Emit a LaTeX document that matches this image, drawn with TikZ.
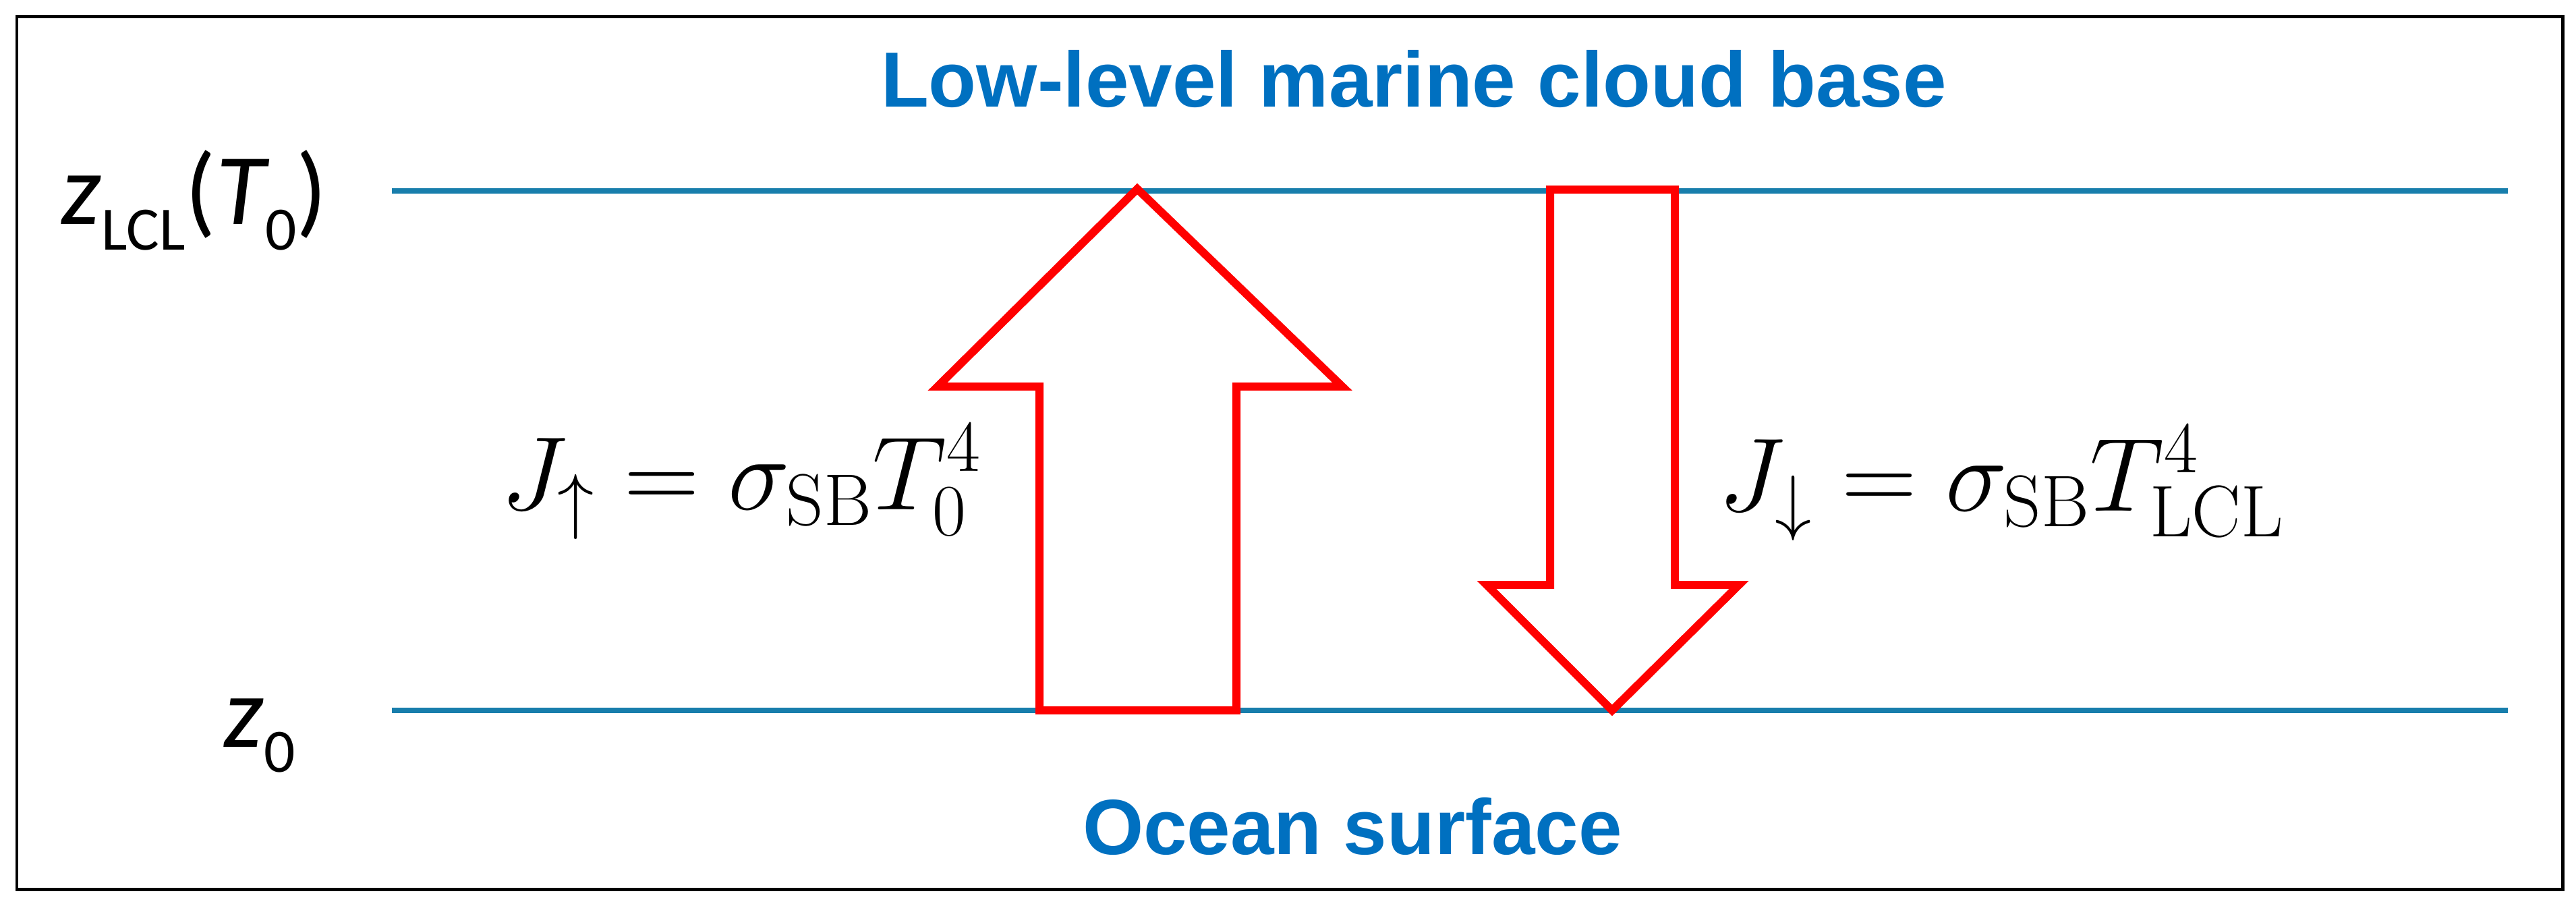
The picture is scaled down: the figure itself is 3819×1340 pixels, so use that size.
\documentclass[tikz,border=0pt]{standalone}
\usepackage{fix-cm}
\usepackage{amsmath}
\usepackage{fontspec}
\setsansfont{Liberation Sans}
\newfontfamily\calib{Carlito}
\usepackage{tikz}

\definecolor{levelblue}{RGB}{24,126,172}
\definecolor{textblue}{RGB}{0,112,192}

% low subscript for the height labels
\newcommand{\lowsub}[1]{\raisebox{-0.25em}{\fontsize{26}{26}\selectfont\upshape #1}}

\begin{document}
\begin{tikzpicture}[x=0.01cm, y=-0.01cm,
    level/.style={line width=2.1pt, levelblue},
    flux/.style={line width=3.4pt, red, line join=miter, fill=white},
    title/.style={font=\sffamily\bfseries\fontsize{33}{38}\selectfont, text=textblue, inner sep=0pt, anchor=base},
    height/.style={font=\calib\itshape\fontsize{42.7}{48}\selectfont, inner sep=0pt, anchor=base west},
    eqn/.style={font=\fontsize{44}{50}\selectfont, inner sep=0pt, anchor=base west}]
    \useasboundingbox (0,0) rectangle (3819,1340);

    % Outer frame
    \draw[line width=1.42pt] (25,25) rectangle (3799,1318);

    % Cloud base and ocean surface levels
    \coordinate (lclW) at (581,283);
    \coordinate (lclE) at (3718,283);
    \coordinate (seaW) at (581,1053);
    \coordinate (seaE) at (3718,1053);
    \draw[level] (lclW) -- (lclE);
    \draw[level] (seaW) -- (seaE);

    % Labels for the levels
    \node[title] (cloud) at (2096,159) {Low-level marine cloud base};
    \node[title] (ocean) at (2005,1266) {Ocean surface};
    \node[height] (zlcl) at (90,333) {z\lowsub{LCL}\upshape(\itshape T\lowsub{0}\upshape)};
    \node[height] (zsea) at (331,1107) {z\lowsub{0}};

    % Upward flux arrow
    \draw[flux] (1686,280) -- (1990,573) -- (1833,573) -- (1833,1053)
        -- (1541,1053) -- (1541,573) -- (1390,573) -- cycle;

    % Downward flux arrow
    \draw[flux] (2298,281) -- (2483,281) -- (2483,867) -- (2578,867)
        -- (2390,1053) -- (2204,867) -- (2298,867) -- cycle;

    % Flux expressions
    \node[eqn] (jup) at (742,755) {$J_\uparrow = \sigma_{\mathrm{SB}}T_0^4$};
    \node[eqn] (jdown) at (2547,757) {$J_\downarrow = \sigma_{\mathrm{SB}}T_{\mathrm{LCL}}^4$};
\end{tikzpicture}
\end{document}
